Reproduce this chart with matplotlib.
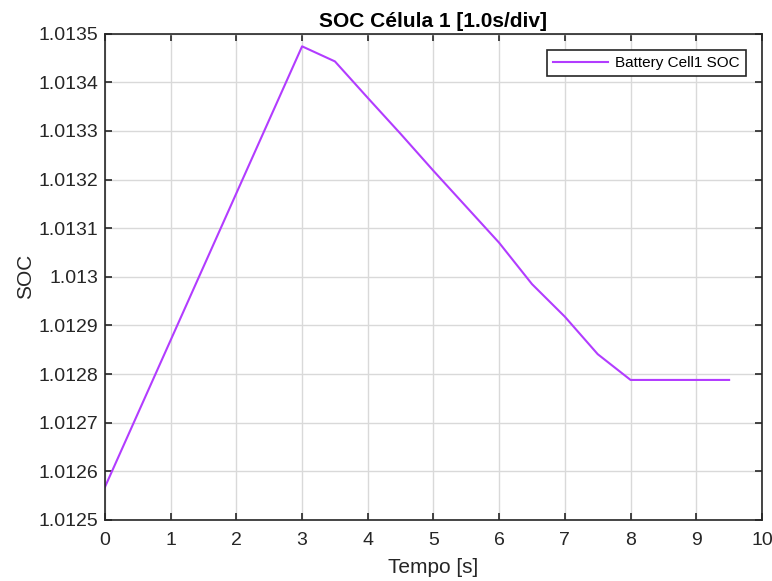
import numpy as np
import matplotlib
matplotlib.use("Agg")
import matplotlib.pyplot as plt

plt.rcParams['font.family'] = ['Liberation Sans', 'DejaVu Sans']

# tempo [s] e SOC da célula 1
tempo = [0, 3, 3.5, 4, 4.5, 5, 5.5, 6, 6.5, 7, 7.5, 8, 9.5]
soc = [1.012568, 1.013474, 1.013443, 1.013368, 1.013294, 1.013218, 1.013144,
       1.013070, 1.012985, 1.012918, 1.012841, 1.012788, 1.012788]

x_ticks = list(range(0, 11))
y_ticks = [1.0125, 1.0126, 1.0127, 1.0128, 1.0129, 1.013, 1.0131, 1.0132,
           1.0133, 1.0134, 1.0135]
y_labels = ["1.0125", "1.0126", "1.0127", "1.0128", "1.0129", "1.013", "1.0131",
            "1.0132", "1.0133", "1.0134", "1.0135"]

cor_eixo = "#262626"

fig = plt.figure(figsize=(7.72, 5.81), dpi=100)
ax = fig.add_axes([0.136, 0.105, 0.851, 0.837])

ax.plot(tempo, soc, color="#B23CFF", linewidth=1.5, label="Battery Cell1 SOC")

ax.set_xlim(0, 10)
ax.set_ylim(1.0125, 1.0135)
ax.set_xticks(x_ticks)
ax.set_yticks(y_ticks)
ax.set_yticklabels(y_labels)

ax.grid(True, color="#d9d9d9", linewidth=1.0)
ax.set_axisbelow(True)
ax.tick_params(direction="in", top=True, right=True, length=5, width=1.2,
               labelsize=14, colors=cor_eixo, pad=5)
ax.tick_params(axis="x", pad=9)
for s in ax.spines.values():
    s.set_color(cor_eixo)
    s.set_linewidth(1.2)

ax.set_title("SOC Célula 1 [1.0s/div]", fontsize=15, fontweight="bold", pad=5)
ax.set_xlabel("Tempo [s]", fontsize=15, color=cor_eixo, labelpad=6)
ax.set_ylabel("SOC", fontsize=15, color=cor_eixo, labelpad=2)

leg = ax.legend(loc="upper right", fontsize=11, fancybox=False, framealpha=1,
                edgecolor=cor_eixo, handlelength=3.6, handletextpad=0.45,
                borderaxespad=1.05)
leg.get_frame().set_linewidth(1.2)

fig.savefig("out.png", dpi=100)
